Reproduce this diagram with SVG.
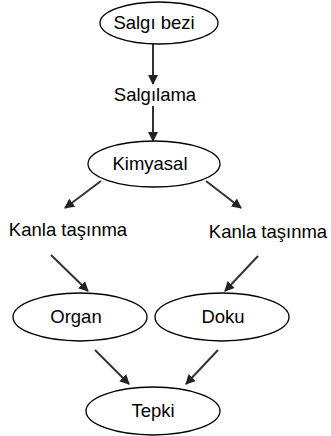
<svg xmlns="http://www.w3.org/2000/svg" width="331" height="436" viewBox="0 0 331 436">
<style>
.n ellipse{fill:#fff;stroke:#000;stroke-width:1.3}
text{font-family:"Liberation Sans",Arial,sans-serif;font-size:18.5px;fill:#000;text-anchor:middle}
.c line{stroke:#333;stroke-width:2;marker-end:url(#ah)}
</style>
<defs>
<marker id="ah" viewBox="0 0 10 10" refX="9" refY="5" markerWidth="5" markerHeight="5" orient="auto" markerUnits="strokeWidth">
<path d="M0,0 L10,5 L0,10 z" fill="#222"/>
</marker>
</defs>
<rect width="331" height="436" fill="#fff"/>
<g class="c">
<line x1="153" y1="44" x2="153" y2="84"/>
<line x1="153" y1="106" x2="153" y2="141"/>
<line x1="101" y1="181" x2="65" y2="208"/>
<line x1="206" y1="181" x2="241" y2="208"/>
<line x1="51" y1="255" x2="88" y2="291"/>
<line x1="258" y1="256" x2="225" y2="291"/>
<line x1="95" y1="350" x2="129" y2="384"/>
<line x1="218" y1="350" x2="186" y2="384"/>
</g>
<g id="salgi-bezi" class="n"><ellipse cx="159" cy="23" rx="59" ry="21"/><text x="154" y="29">Salgı bezi</text></g>
<g id="salgilama"><text x="155" y="101">Salgılama</text></g>
<g id="kimyasal" class="n"><ellipse cx="154" cy="164" rx="66" ry="23"/><text x="150" y="170">Kimyasal</text></g>
<g id="kanla-sol"><text x="68" y="236">Kanla taşınma</text></g>
<g id="kanla-sag"><text x="268" y="238">Kanla taşınma</text></g>
<g id="organ" class="n"><ellipse cx="80" cy="317" rx="67" ry="24"/><text x="76" y="323">Organ</text></g>
<g id="doku" class="n"><ellipse cx="222" cy="317" rx="67" ry="24"/><text x="223" y="323">Doku</text></g>
<g id="tepki" class="n"><ellipse cx="153" cy="411" rx="67" ry="24"/><text x="153" y="417">Tepki</text></g>
</svg>
